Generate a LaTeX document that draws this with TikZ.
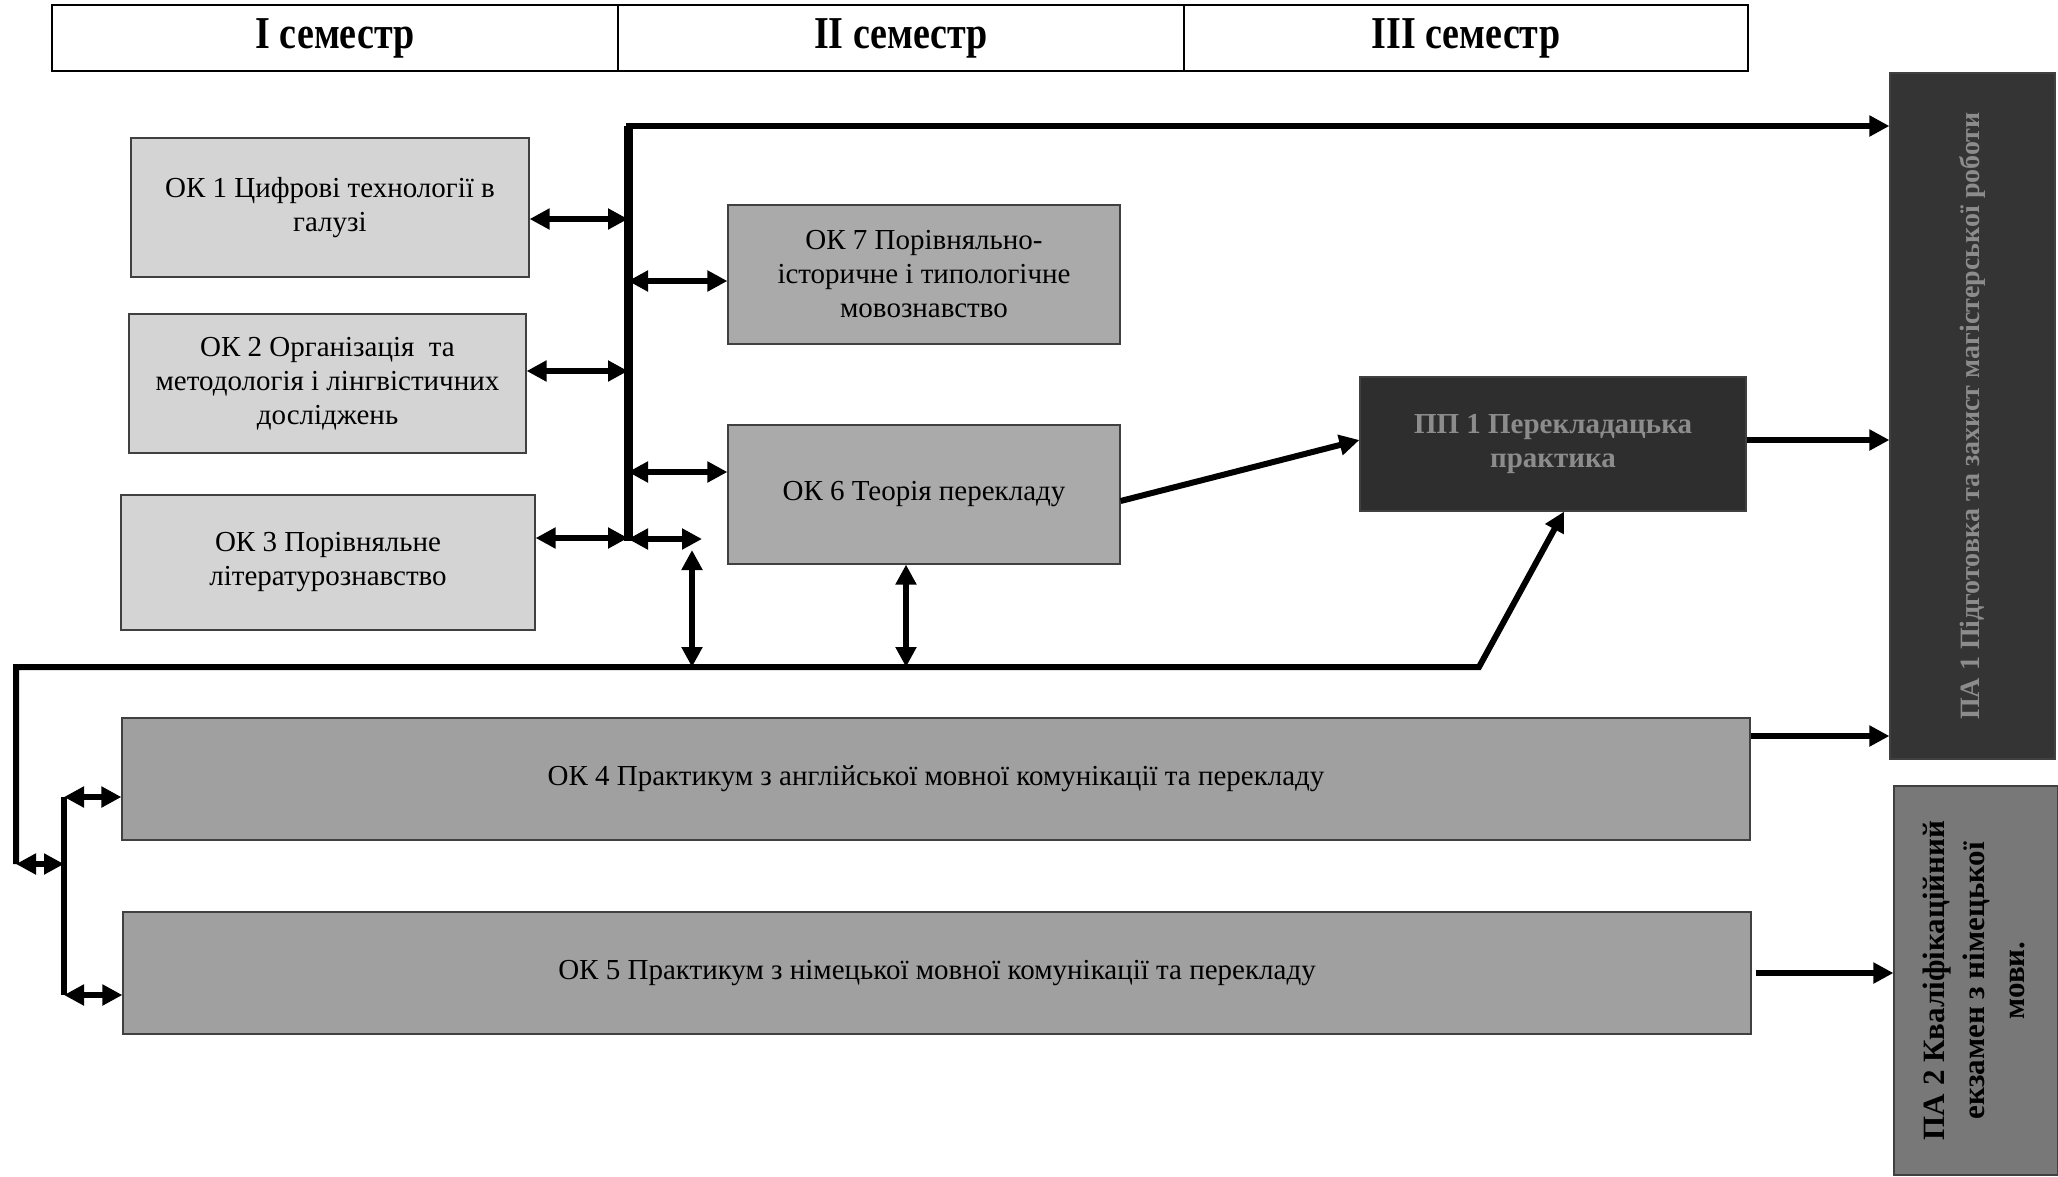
\documentclass[tikz,border=0pt]{standalone}
\usepackage{fontspec}
\setmainfont{Liberation Serif}
\usetikzlibrary{arrows.meta}
\definecolor{lightbox}{RGB}{212,212,212}
\definecolor{midbox}{RGB}{170,170,170}
\definecolor{widebox}{RGB}{160,160,160}
\definecolor{darkbox}{RGB}{46,46,46}
\definecolor{pabox}{RGB}{52,52,52}
\definecolor{patwo}{RGB}{120,120,120}
\definecolor{darktext}{RGB}{140,140,140}
\begin{document}
\begin{tikzpicture}[x=1pt,y=-1pt,
  box/.style={draw=black!75, line width=1.2pt, align=center, inner sep=4pt,
    font=\fontsize{29}{34}\selectfont},
  hdr/.style={draw=black, line width=1.6pt, minimum height=66pt,
    font=\bfseries\fontsize{38}{40}\selectfont},
  conn/.style={line width=6pt, -{Triangle[length=20pt,width=20pt]}},
  dconn/.style={line width=6pt, {Triangle[length=20pt,width=20pt]}-{Triangle[length=20pt,width=20pt]}},
  bar/.style={line width=6pt},
  busline/.style={line width=9pt}]
\useasboundingbox (0,0) rectangle (2058,1176);

% header
\node[hdr, minimum width=566pt] (h1) at (335,38) {\scalebox{1}[1.2]{I семестр}};
\node[hdr, minimum width=566pt] (h2) at (901,38) {\scalebox{1}[1.2]{II семестр}};
\node[hdr, minimum width=564pt] (h3) at (1466,38) {\scalebox{1}[1.2]{III семестр}};

% boxes
\node[box, fill=lightbox, minimum width=398pt, minimum height=139pt] (ok1) at (330,207.5)
  {ОК 1 Цифрові технології в\\галузі};
\node[box, fill=lightbox, minimum width=397pt, minimum height=139pt] (ok2) at (327.5,383.5)
  {ОК 2 Організація~ та\\методологія і лінгвістичних\\досліджень};
\node[box, fill=lightbox, minimum width=414pt, minimum height=135pt] (ok3) at (328,562.5)
  {ОК 3 Порівняльне\\літературознавство};
\node[box, fill=midbox, minimum width=392pt, minimum height=139pt] (ok7) at (924,274.5)
  {ОК 7 Порівняльно-\\історичне і типологічне\\мовознавство};
\node[box, fill=midbox, minimum width=392pt, minimum height=139pt] (ok6) at (924,494.5)
  {ОК 6 Теорія перекладу};
\node[box, fill=darkbox, text=darktext, font=\bfseries\fontsize{29}{34}\selectfont,
  minimum width=386pt, minimum height=134pt] (pp1) at (1553,444)
  {ПП 1 Перекладацька\\практика};
\node[box, fill=widebox, minimum width=1628pt, minimum height=122pt] (ok4) at (936,779)
  {ОК 4 Практикум з англійської мовної комунікації та перекладу};
\node[box, fill=widebox, minimum width=1628pt, minimum height=122pt] (ok5) at (937,973)
  {ОК 5 Практикум з німецької мовної комунікації та перекладу};
\node[box, fill=pabox, text=darktext, font=\bfseries\fontsize{28}{32}\selectfont,
  minimum width=165pt, minimum height=686pt] (pa1) at (1972.5,416)
  {\rotatebox{90}{ПА 1 Підготовка та захист магістерської роботи}};
\node[box, fill=patwo, text=black, font=\bfseries\fontsize{31}{40}\selectfont,
  minimum width=164pt, minimum height=389pt] (pa2) at (1976,980.5)
  {\rotatebox{90}{\begin{tabular}{@{}c@{}}ПА 2 Кваліфікаційний\\екзамен з німецької\\мови.\end{tabular}}};

% coordinates
\coordinate (bt) at (628,126);
\coordinate (bb) at (628,541);
\coordinate (sr) at (702,539);
\coordinate (vs) at (692,550);
\coordinate (kink) at (1479,667);
\coordinate (ltop) at (16,667);
\coordinate (lm) at (16,864);
\coordinate (lr) at (64,864);
\coordinate (vtop) at (64,797);
\coordinate (vbot) at (64,995);

% main bus
\draw[busline] (bt) -- (bb);
\draw[conn] ([xshift=-2pt]bt) -- (bt -| pa1.west);

% left column to bus
\draw[dconn] (ok1.east |- 0,219) -- (bt |- 0,219);
\draw[dconn] (ok2.east |- 0,371) -- (bt |- 0,371);
\draw[dconn] (ok3.east |- 0,538) -- (bt |- 0,538);

% bus to OK7 / OK6
\draw[dconn] (bt |- 0,281) -- (ok7.west |- 0,281);
\draw[dconn] (bt |- 0,472) -- (ok6.west |- 0,472);

% bus bottom stub
\draw[dconn] (bt |- sr) -- (sr);
\draw[dconn] (vs) -- (vs |- kink);

% OK6 to bottom line
\draw[dconn] (ok6.south -| 906,0) -- (906,667);

% bottom line to PP1
\draw[conn, line join=miter] (lm) -- (ltop) -- (kink) -- ([xshift=11pt]pp1.south);

% left connectors to OK4 / OK5
\draw[dconn] (lm) -- (lr);
\draw[bar] (vtop) -- (vbot);
\draw[dconn] (vtop) -- (vtop -| ok4.west);
\draw[dconn] (vbot) -- (vbot -| ok5.west);

% to PP1 and PA
\draw[conn] (ok6.east |- 0,501) -- (pp1.west |- 0,440);
\draw[conn] (pp1.east |- 0,440) -- (pa1.west |- 0,440);
\draw[conn] (ok4.east |- 0,736) -- (pa1.west |- 0,736);
\draw[conn] ([xshift=4pt]ok5.east) -- (ok5.east -| pa2.west);
\end{tikzpicture}
\end{document}
